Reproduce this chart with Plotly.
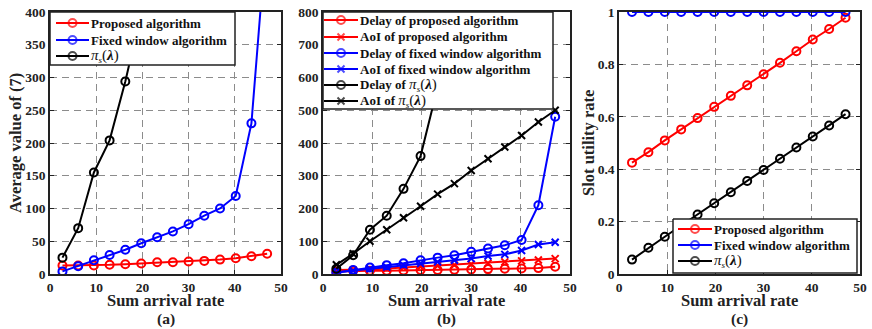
import plotly.graph_objects as go

# ---------------- data ----------------
x_rate = [2.7, 6.1, 9.5, 12.9, 16.3, 19.75, 23.2, 26.6, 30.0, 33.4, 36.8, 40.2, 43.6, 47.0]

# (a) average value of (7)
a_proposed = [13, 13, 13, 14, 15, 16, 18, 18, 19, 20, 22, 24, 27, 31]
a_fixed = [4, 12, 21, 29, 37, 47, 56, 65, 76, 89, 100, 119, 230, 530]
a_pis_x = [2.7, 6.1, 9.5, 12.9, 16.3, 19.75, 23.2]
a_pis = [25, 70, 155, 204, 294, 400, 560]

# (b) delay and AoI
b_delay_prop = [8, 10, 10, 10, 11, 12, 12, 13, 14, 15, 16, 17, 18, 22]
b_aoi_prop = [12, 12, 14, 17, 20, 22, 25, 27, 30, 33, 37, 40, 43, 47]
b_delay_fixed = [4, 12, 20, 27, 33, 42, 50, 57, 68, 78, 88, 104, 210, 480]
b_aoi_fixed = [5, 10, 16, 21, 27, 32, 37, 42, 47, 55, 60, 72, 90, 97]
b_delay_pis_x = [2.7, 6.1, 9.5, 12.9, 16.3, 19.75, 23.2]
b_delay_pis = [16, 57, 135, 178, 260, 360, 570]
b_aoi_pis = [28, 62, 100, 135, 172, 207, 244, 276, 316, 352, 388, 423, 464, 500]

# (c) slot utility rate
c_proposed = [0.425, 0.465, 0.51, 0.552, 0.595, 0.638, 0.68, 0.72, 0.762, 0.806, 0.85, 0.895, 0.935, 0.978]
c_fixed = [1, 1, 1, 1, 1, 1, 1, 1, 1, 1, 1, 1, 1, 1]
c_pis = [0.055, 0.1, 0.142, 0.185, 0.227, 0.27, 0.312, 0.355, 0.397, 0.44, 0.483, 0.525, 0.567, 0.61]

x_ticks = [0, 10, 20, 30, 40, 50]
a_yticks = [0, 50, 100, 150, 200, 250, 300, 350, 400]
b_yticks = [0, 100, 200, 300, 400, 500, 600, 700, 800]
c_yticks = [0, 0.2, 0.4, 0.6, 0.8, 1]
c_yticklabels = ["0", "0.2", "0.4", "0.6", "0.8", "1"]

PIS = ("<span style='font-size:15px'><i>π</i></span><sub><i>s</i></sub>"
       "<span style='font-size:15px'>(<b><i>λ</i></b>)</span>")
legend_a = ["<b>Proposed algorithm</b>", "<b>Fixed window algorithm</b>", PIS]
legend_b = ["<b>Delay of proposed algorithm</b>", "<b>AoI of proposed algorithm</b>",
            "<b>Delay of fixed window algorithm</b>", "<b>AoI of fixed window algorithm</b>",
            "<b>Delay of </b>" + PIS, "<b>AoI of </b>" + PIS]
legend_c = legend_a

RED, BLUE, BLACK = "#FF0000", "#0000FF", "#000000"
FONT = "Times New Roman, Liberation Serif, serif"
TXT = "#222222"

W, H = 872, 329
def px(x): return x / W
def py(y): return 1 - y / H

fig = go.Figure()

def circ(color):
    return dict(symbol="circle-open", size=8, color=color, line=dict(width=2, color=color))

def cross(color):
    return dict(symbol="x-thin-open", size=7, color=color, line=dict(width=2, color=color))

def add(x, y, color, marker, xa, ya, name):
    fig.add_trace(go.Scatter(x=x, y=y, mode="lines+markers", name=name,
                             line=dict(color=color, width=2), marker=marker,
                             xaxis=xa, yaxis=ya, showlegend=False, cliponaxis=True))

# (a)
add(x_rate, a_proposed, RED, circ(RED), "x", "y", "Proposed algorithm")
add(x_rate, a_fixed, BLUE, circ(BLUE), "x", "y", "Fixed window algorithm")
add(a_pis_x, a_pis, BLACK, circ(BLACK), "x", "y", "pi_s(lambda)")
# (b)
add(x_rate, b_delay_prop, RED, circ(RED), "x2", "y2", "Delay of proposed algorithm")
add(x_rate, b_aoi_prop, RED, cross(RED), "x2", "y2", "AoI of proposed algorithm")
add(x_rate, b_delay_fixed, BLUE, circ(BLUE), "x2", "y2", "Delay of fixed window algorithm")
add(x_rate, b_aoi_fixed, BLUE, cross(BLUE), "x2", "y2", "AoI of fixed window algorithm")
add(b_delay_pis_x, b_delay_pis, BLACK, circ(BLACK), "x2", "y2", "Delay of pi_s(lambda)")
add(x_rate, b_aoi_pis, BLACK, cross(BLACK), "x2", "y2", "AoI of pi_s(lambda)")
# (c)
add(x_rate, c_proposed, RED, circ(RED), "x3", "y3", "Proposed algorithm")
add(x_rate, c_fixed, BLUE, circ(BLUE), "x3", "y3", "Fixed window algorithm")
add(x_rate, c_pis, BLACK, circ(BLACK), "x3", "y3", "pi_s(lambda)")

# ---------- legends (drawn on a full-page overlay axis in pixel units) ----------
def legend_box(x0, y0, x1, y1, labels, colors, markers, line_x0, line_x1, text_x, row_ys):
    fig.add_trace(go.Scatter(x=[x0, x1, x1, x0, x0], y=[y0, y0, y1, y1, y0], mode="lines",
                             fill="toself", fillcolor="white", line=dict(color=TXT, width=1.5),
                             xaxis="x4", yaxis="y4", showlegend=False, hoverinfo="skip"))
    for lab, col, mk, yy in zip(labels, colors, markers, row_ys):
        fig.add_trace(go.Scatter(x=[line_x0, (line_x0 + line_x1) / 2, line_x1], y=[yy, yy, yy],
                                 mode="lines+markers", line=dict(color=col, width=2),
                                 marker=dict(mk, size=[0, mk["size"], 0]),
                                 xaxis="x4", yaxis="y4", showlegend=False, hoverinfo="skip"))
        fig.add_annotation(x=px(text_x), y=py(yy), xref="paper", yref="paper", text=lab,
                           showarrow=False, xanchor="left", yanchor="middle",
                           font=dict(family=FONT, size=13, color="#111111"))

legend_box(50, 12, 235, 65, legend_a, [RED, BLUE, BLACK], [circ(RED), circ(BLUE), circ(BLACK)],
           56, 89, 89, [23, 40, 56])
legend_box(323, 12, 553, 109, legend_b, [RED, RED, BLUE, BLUE, BLACK, BLACK],
           [circ(RED), cross(RED), circ(BLUE), cross(BLUE), circ(BLACK), cross(BLACK)],
           324, 358, 358, [20, 37, 53, 69, 85, 101])
legend_box(673, 219, 857, 273, legend_c, [RED, BLUE, BLACK], [circ(RED), circ(BLUE), circ(BLACK)],
           678, 712, 712, [229, 245, 261])

ydom = [py(274), py(12)]
tickfont = dict(family=FONT, size=13.5, color=TXT)

common = dict(showline=True, linecolor=TXT, linewidth=1.5, mirror="ticks",
              ticks="inside", ticklen=4, tickcolor=TXT,
              showgrid=True, gridcolor="#8c8c8c", griddash="7px,5px", gridwidth=1.3,
              zeroline=False, tickfont=tickfont, automargin=False)

def xaxis(dom, anchor):
    return dict(common, domain=dom, anchor=anchor, range=[0, 50],
                tickvals=x_ticks, ticktext=["<b>%d</b>" % v for v in x_ticks])

def yaxis(anchor, rng, vals, texts):
    return dict(common, domain=ydom, anchor=anchor, range=rng,
                tickvals=vals, ticktext=["<b>%s</b>" % t for t in texts])

fig.update_layout(
    width=W, height=H, margin=dict(l=0, r=0, t=0, b=0, autoexpand=False),
    paper_bgcolor="white", plot_bgcolor="rgba(0,0,0,0)",
    xaxis=xaxis([px(50), px(281)], "y"),
    yaxis=yaxis("x", [0, 400], a_yticks, [str(v) for v in a_yticks]),
    xaxis2=xaxis([px(323), px(570)], "y2"),
    yaxis2=yaxis("x2", [0, 800], b_yticks, [str(v) for v in b_yticks]),
    xaxis3=xaxis([px(619), px(860)], "y3"),
    yaxis3=yaxis("x3", [0, 1], c_yticks, c_yticklabels),
    xaxis4=dict(domain=[0, 1], range=[0, W], visible=False, anchor="y4", fixedrange=True),
    yaxis4=dict(domain=[0, 1], range=[H, 0], visible=False, anchor="x4", fixedrange=True),
    showlegend=False,
)

title_font = dict(family=FONT, size=16.5, color=TXT)
for xc, lab in [((50 + 281) / 2, "(a)"), ((323 + 570) / 2, "(b)"), ((619 + 860) / 2, "(c)")]:
    fig.add_annotation(x=px(xc), y=py(300), xref="paper", yref="paper", text="<b>Sum arrival rate</b>",
                       showarrow=False, font=title_font, xanchor="center", yanchor="middle")
    fig.add_annotation(x=px(xc), y=py(319), xref="paper", yref="paper", text="<b>" + lab + "</b>",
                       showarrow=False, font=dict(family=FONT, size=15.5, color=TXT),
                       xanchor="center", yanchor="middle")

fig.add_annotation(x=px(15), y=py(143), xref="paper", yref="paper", text="<b>Average value of (7)</b>",
                   textangle=-90, showarrow=False, font=title_font, xanchor="center", yanchor="middle")
fig.add_annotation(x=px(588), y=py(143), xref="paper", yref="paper", text="<b>Slot utility rate</b>",
                   textangle=-90, showarrow=False, font=title_font, xanchor="center", yanchor="middle")

fig.write_html("out.html", config={"displayModeBar": False},
               post_script="document.body.style.margin='0';document.body.style.overflow='hidden';")
